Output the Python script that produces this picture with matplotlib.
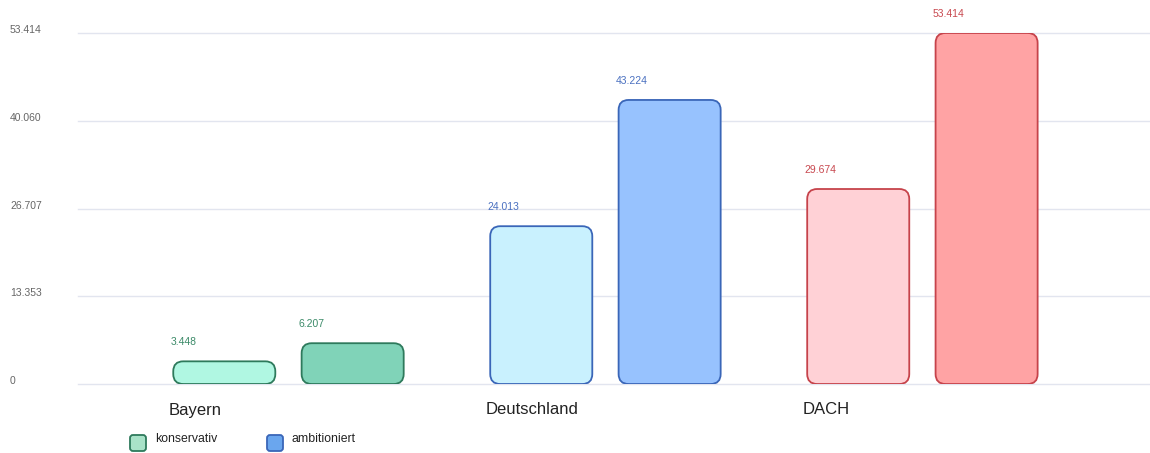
import matplotlib
matplotlib.use("Agg")
import matplotlib.pyplot as plt
from matplotlib.patches import FancyBboxPatch

plt.rcParams['font.family'] = ['Liberation Sans', 'DejaVu Sans']

categories = ["Bayern", "Deutschland", "DACH"]
series = ["konservativ", "ambitioniert"]
konservativ = [3.448, 24.013, 29.674]
ambitioniert = [6.207, 43.224, 53.414]
value_labels_k = ["3.448", "24.013", "29.674"]
value_labels_a = ["6.207", "43.224", "53.414"]
yticks = [0, 13.353, 26.707, 40.060, 53.414]
ytick_labels = ["0", "13.353", "26.707", "40.060", "53.414"]

fill_k = ["#b0f7e2", "#c9f1fe", "#ffd1d6"]
fill_a = ["#80d3b8", "#97c2fe", "#ffa3a4"]
edges = ["#2e7a5c", "#3a66b8", "#c6434b"]
label_cols = ["#3b8a68", "#4a70c0", "#c8484f"]

W, H = 1150, 453
fig = plt.figure(figsize=(W / 100, H / 100), dpi=100)
ax_l, ax_r, ax_t, ax_b = 78, 1150, 33, 384
ax = fig.add_axes([ax_l / W, (H - ax_b) / H, (ax_r - ax_l) / W, (ax_b - ax_t) / H])

xmin, xmax = -0.664, 2.718
ymax = 53.414
ax.set_xlim(xmin, xmax)
ax.set_ylim(0, ymax)

for s in ax.spines.values():
    s.set_visible(False)
ax.set_xticks([])
ax.set_yticks(yticks)
ax.set_yticklabels([])
ax.tick_params(axis='y', length=0)
ax.grid(axis='y', color="#e2e5ef", linewidth=1)
for gl in ax.get_ygridlines():
    gl.set_clip_on(False)
ax.set_axisbelow(True)

for yv, lab in zip(yticks, ytick_labels):
    ax.annotate(lab, xy=(10, yv), xycoords=('figure pixels', 'data'),
                xytext=(0, 3), textcoords='offset pixels',
                ha='left', va='center', fontsize=7.5, color="#666666",
                annotation_clip=False)

# aspect for rounded corners
px_x = (xmax - xmin) / (ax_r - ax_l)
px_y = ymax / (ax_b - ax_t)
aspect = px_y / px_x
radius_px = 10

offset = 0.2025
width = 0.322

for i, cat in enumerate(categories):
    for vals, fills, labs, sign in [(konservativ, fill_k, value_labels_k, -1),
                                    (ambitioniert, fill_a, value_labels_a, 1)]:
        v = vals[i]
        left = i + sign * offset - width / 2
        r = min(radius_px * px_x, v / aspect / 2 * 0.999)
        patch = FancyBboxPatch((left, 0), width, v,
                               boxstyle=f"round,pad=0,rounding_size={r}",
                               mutation_aspect=aspect,
                               facecolor=fills[i], edgecolor=edges[i],
                               linewidth=1.3, zorder=3)
        ax.add_patch(patch)
        ax.annotate(labs[i], xy=(left, v), xytext=(-3, 19), textcoords='offset pixels',
                    ha='left', va='center', fontsize=7.5, color=label_cols[i],
                    annotation_clip=False)
    cat_left = i - offset - width / 2
    ax.annotate(cat, xy=(cat_left, 0), xytext=(-5, -26), textcoords='offset pixels',
                ha='left', va='center', fontsize=12, color="#222222",
                annotation_clip=False)

# legend
leg_fill = ["#a8e2c8", "#6aa6ee"]
leg_edge = ["#2e7a5c", "#3a66b8"]
leg_x = [130, 267]
for j, name in enumerate(series):
    x0 = leg_x[j]
    p = FancyBboxPatch((x0, H - 451), 16, 16,
                       boxstyle="round,pad=0,rounding_size=3",
                       facecolor=leg_fill[j], edgecolor=leg_edge[j], linewidth=1.3,
                       transform=None)
    fig.patches.append(p)
    p.set_figure(fig)
    fig.text((x0 + 25) / W, (H - 439) / H, name, ha='left', va='center',
             fontsize=8.8, color="#222222")

fig.savefig("out.png", dpi=100)
